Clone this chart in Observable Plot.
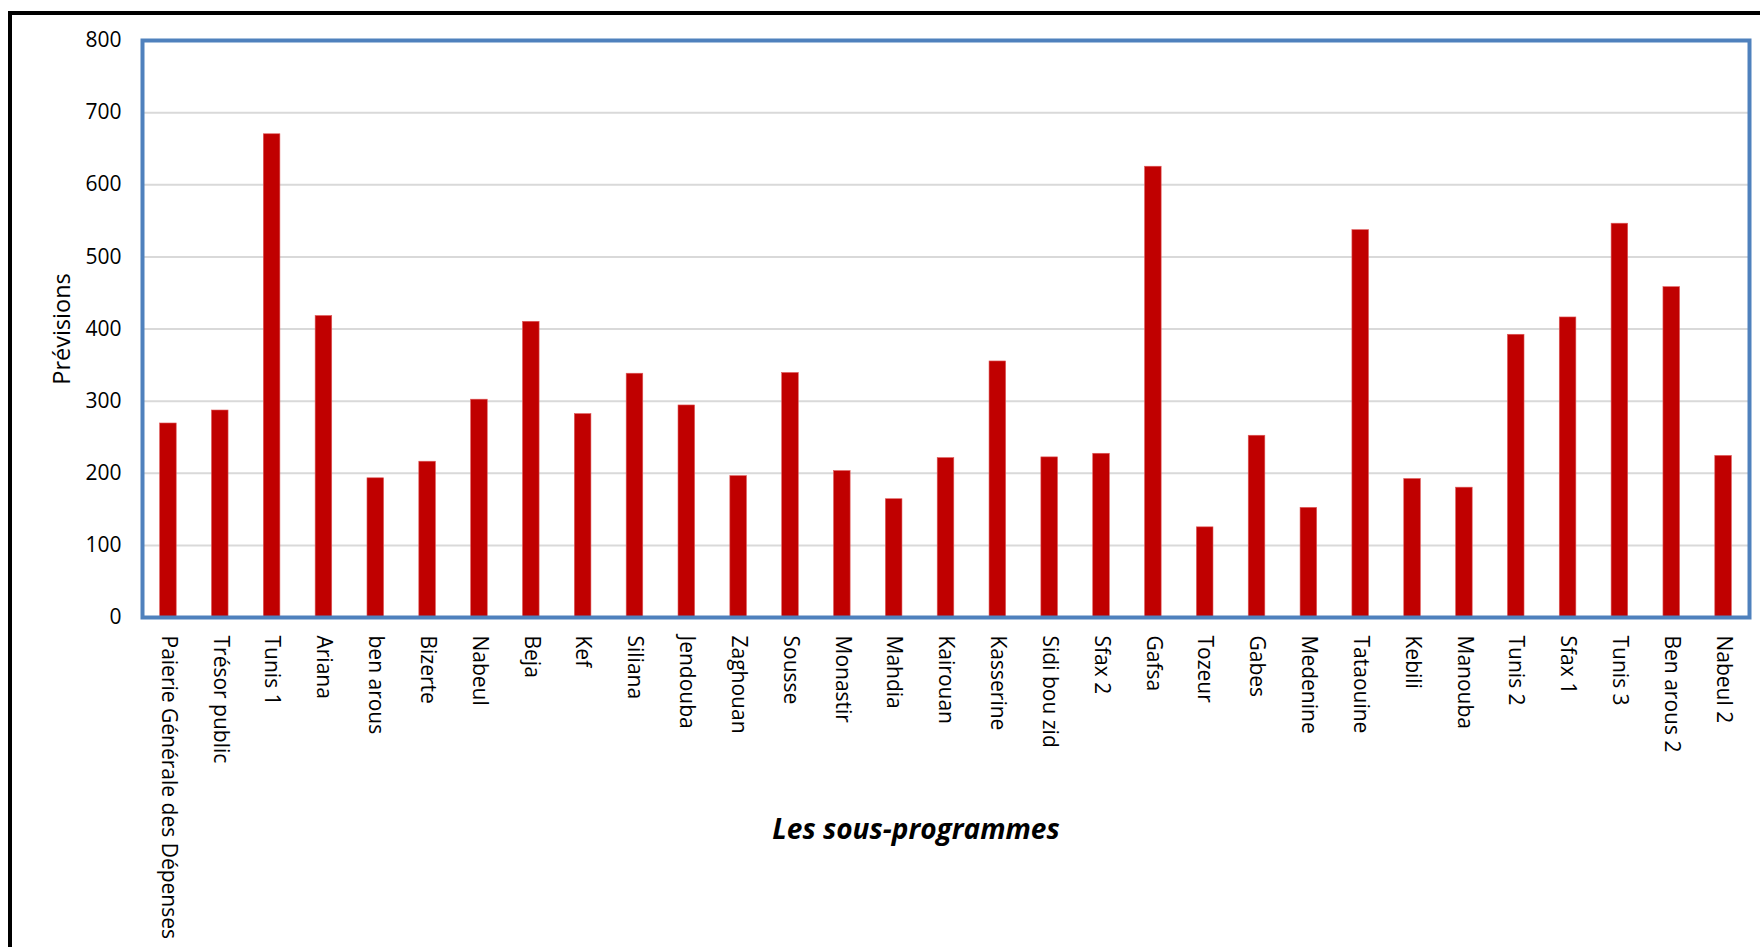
<!DOCTYPE html>
<html>
<head>
<meta charset="utf-8">
<script src="https://cdn.jsdelivr.net/npm/d3@7"></script>
<script src="https://cdn.jsdelivr.net/npm/@observablehq/plot@0.6"></script>
<style>
  html, body { margin: 0; padding: 0; background: #fff; }
  #wrap { position: relative; width: 1760px; height: 947px; overflow: hidden; font-family: "Open Sans", sans-serif; }
  #frame { position: absolute; left: 8px; top: 11px; width: 1800px; height: 1000px; border: 4px solid #000; box-sizing: border-box; }
  #chart { position: absolute; left: 0; top: 0; }
  #ylabel { position: absolute; left: 61px; top: 329px; transform: translate(-50%, -50%) rotate(-90deg); font-size: 23.5px; color: #000; white-space: nowrap; }
  #xlabel { position: absolute; left: 916px; top: 828px; transform: translate(-50%, -50%); font-size: 28px; font-weight: bold; font-style: italic; color: #000; white-space: nowrap; }
</style>
</head>
<body>
<div id="wrap">
  <div id="frame"></div>
  <div id="chart"></div>
  <div id="ylabel">Prévisions</div>
  <div id="xlabel">Les sous-programmes</div>
</div>
<script>
const categories = [
  "Paierie Générale des Dépenses", "Trésor public", "Tunis 1", "Ariana", "ben arous",
  "Bizerte", "Nabeul", "Beja", "Kef", "Siliana", "Jendouba", "Zaghouan", "Sousse",
  "Monastir", "Mahdia", "Kairouan", "Kasserine", "Sidi bou zid", "Sfax 2", "Gafsa",
  "Tozeur", "Gabes", "Medenine", "Tataouine", "Kebili", "Manouba", "Tunis 2",
  "Sfax 1", "Tunis 3", "Ben arous 2", "Nabeul 2"
];
const values = [
  269, 287, 670, 418, 193,
  216, 302, 410, 282, 338, 294, 196, 339,
  203, 164, 221, 355, 222, 227, 625,
  125, 252, 152, 537, 192, 180, 392,
  416, 546, 458, 224
];
const yTicks = [0, 100, 200, 300, 400, 500, 600, 700, 800];

const data = categories.map((c, i) => ({ cat: c, val: values[i] }));

const chart = Plot.plot({
  width: 1760,
  height: 947,
  marginLeft: 142,
  marginRight: 11,
  marginTop: 40,
  marginBottom: 330,
  x: { domain: categories, paddingInner: 0.68, paddingOuter: 0.34, align: 0.5, round: false, label: null },
  y: { domain: [0, 800], label: null },
  style: { fontFamily: "Open Sans, sans-serif", color: "#000", background: "transparent" },
  marks: [
    Plot.gridY(yTicks, { stroke: "#d9d9d9", strokeOpacity: 1, strokeWidth: 2 }),
    Plot.barY(data, { x: "cat", y: "val", fill: "#c00000", stroke: "#e05a5a", strokeWidth: 0.6 }),
    Plot.frame({ stroke: "#4f81bd", strokeWidth: 4 }),
    Plot.axisY(yTicks, { tickSize: 0, tickPadding: 21, fontSize: 21, label: null }),
    Plot.axisX({ tickSize: 0, tickPadding: 18, tickRotate: 90, fontSize: 21, label: null })
  ]
});
document.getElementById("chart").appendChild(chart);
</script>
</body>
</html>
